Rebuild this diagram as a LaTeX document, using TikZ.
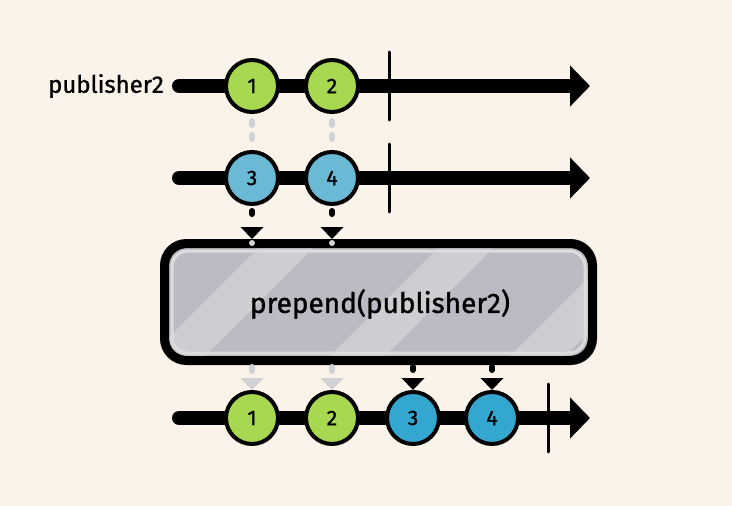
\documentclass[tikz,border=0pt]{standalone}
\usepackage{fontspec}
\setmainfont{Fira Sans}[FakeBold=1.2]
\usetikzlibrary{arrows.meta}
\definecolor{bg}{HTML}{FAF3EA}
\definecolor{grn}{HTML}{A8D850}
\definecolor{bluea}{HTML}{6BBAD5}
\definecolor{blueb}{HTML}{34A7D0}
\definecolor{boxgray}{HTML}{BBBBC3}
\definecolor{stripe}{HTML}{CDCDD2}
\definecolor{dotgray}{HTML}{D2D2D6}
\tikzset{
  timeline/.style={line width=14pt, line cap=round, -{Triangle[length=20pt,width=40pt]}},
  marble/.style={circle, draw=black, line width=4pt, minimum size=52pt, inner sep=0pt, font=\fontsize{21}{21}\selectfont},
  endbar/.style={line width=3pt, line cap=round},
  graydots/.style={dotgray, line width=6pt, line cap=round, dash pattern=on 4pt off 10pt},
  blackdots/.style={black, line width=6pt, line cap=round, dash pattern=on 3pt off 9pt},
  tipblack/.style={-{Triangle[length=12pt,width=23pt]}, black, line width=0pt},
  tipgray/.style={-{Triangle[length=12pt,width=23pt]}, dotgray, line width=0pt},
  label/.style={font=\fontsize{24}{24}\selectfont, anchor=east, inner sep=0pt},
}
\begin{document}
\begin{tikzpicture}[x=1pt,y=-1pt]
\fill[bg] (0,0) rectangle (732,506);
\useasboundingbox (0,0) rectangle (732,506);

% timelines
\coordinate (s1) at (179,86);  \coordinate (e1) at (590,86);
\coordinate (s2) at (179,178); \coordinate (e2) at (590,178);
\coordinate (s3) at (179,418); \coordinate (e3) at (590,418);
\draw[timeline] (s1) -- (e1);
\draw[timeline] (s2) -- (e2);
\draw[timeline] (s3) -- (e3);

% end bars
\coordinate (b1t) at (389,52);  \coordinate (b1b) at (389,120);
\coordinate (b2t) at (389,144); \coordinate (b2b) at (389,212);
\coordinate (b3t) at (548,384); \coordinate (b3b) at (548,452);
\draw[endbar] (b1t) -- (b1b);
\draw[endbar] (b2t) -- (b2b);
\draw[endbar] (b3t) -- (b3b);

\node[label] (lab) at (164,86) {publisher2};

% box
\node[draw=black, line width=9pt, rounded corners=22pt, minimum width=419pt, minimum height=108pt, inner sep=0pt] (op) at (378.5,302) {};
\begin{scope}
  \clip[rounded corners=18pt] (169,248) rectangle (588,356);
  \fill[boxgray] (169,248) rectangle (588,356);
  \foreach \x in {150,330,510} {
    \fill[stripe] (\x,356) -- (\x+55,356) -- (\x+163,248) -- (\x+108,248) -- cycle;
  }
  \draw[stripe!70!white, line width=3pt, rounded corners=16pt] (172,251) rectangle (585,353);
\end{scope}
\draw[black, line width=9pt, rounded corners=22pt] (op.north west) rectangle (op.south east);
\node[font=\fontsize{28}{28}\selectfont, inner sep=0pt] (optext) at (380,304) {prepend(publisher2)};

% marbles
\node[marble, fill=grn] (a1) at (252,86) {1};
\node[marble, fill=grn] (a2) at (332,86) {2};
\node[marble, fill=bluea] (b1) at (252,178) {3};
\node[marble, fill=bluea] (b2) at (332,178) {4};
\node[marble, fill=grn] (c1) at (252,418) {1};
\node[marble, fill=grn] (c2) at (332,418) {2};
\node[marble, fill=blueb] (c3) at (413,418) {3};
\node[marble, fill=blueb] (c4) at (492,418) {4};

% connectors row1 -> row2 (gray dots)
\draw[graydots] ([yshift=-7pt]a1.south) -- ([yshift=3pt]b1.north);
\draw[graydots] ([yshift=-7pt]a2.south) -- ([yshift=3pt]b2.north);

% row2 -> box
\coordinate (k1) at (252,239); \coordinate (k2) at (332,239);
\fill[dotgray] (252,243) circle (3pt);
\fill[dotgray] (332,243) circle (3pt);
\draw[blackdots] ([yshift=-5pt]b1.south) -- ([yshift=-16pt]b1.south);
\draw[blackdots] ([yshift=-5pt]b2.south) -- ([yshift=-16pt]b2.south);
\draw[tipblack] ([yshift=12pt]k1) -- (k1);
\draw[tipblack] ([yshift=12pt]k2) -- (k2);

% box -> row3
\coordinate (m1) at (252,390); \coordinate (m2) at (332,390);
\coordinate (m3) at (413,390); \coordinate (m4) at (492,390);
\draw[graydots] (252,367) -- (252,373);
\draw[graydots] (332,367) -- (332,373);
\draw[tipgray] ([yshift=12pt]m1) -- (m1);
\draw[tipgray] ([yshift=12pt]m2) -- (m2);
\draw[blackdots] (413,367) -- (413,373);
\draw[blackdots] (492,367) -- (492,373);
\draw[tipblack] ([yshift=12pt]m3) -- (m3);
\draw[tipblack] ([yshift=12pt]m4) -- (m4);
\end{tikzpicture}
\end{document}
